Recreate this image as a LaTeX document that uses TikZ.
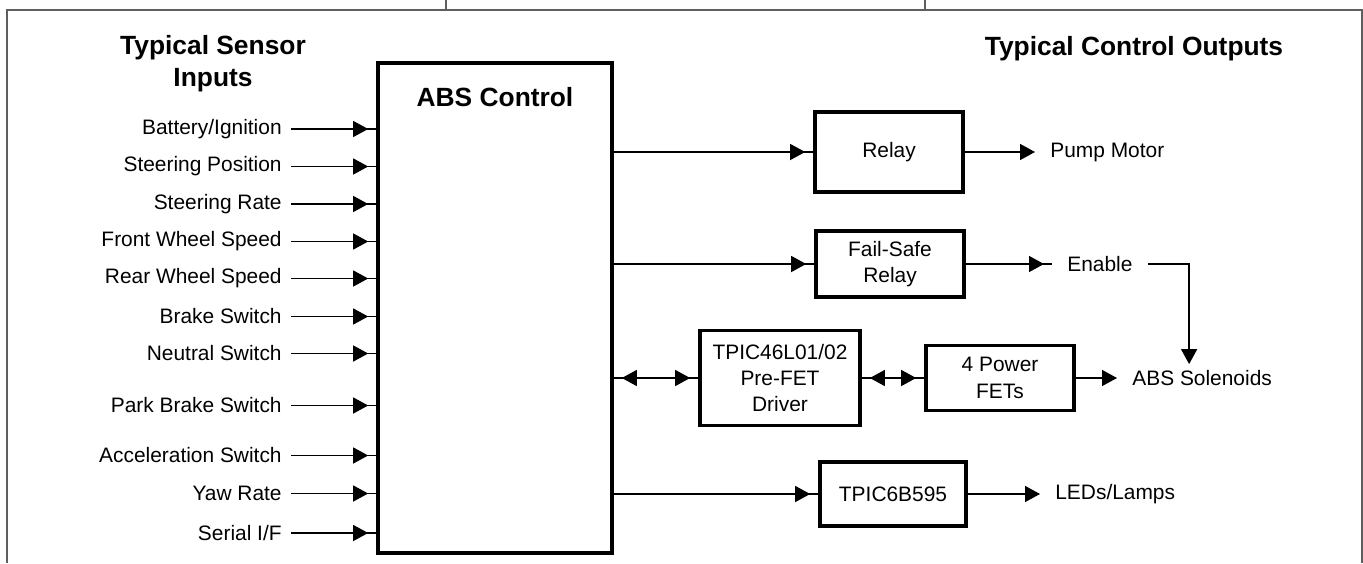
\documentclass[tikz,border=0pt]{standalone}
\usepackage{fontspec}
\setmainfont{Liberation Sans}
\usetikzlibrary{arrows.meta,decorations.markings}
\definecolor{framegray}{HTML}{5F5F5F}

\begin{document}
\begin{tikzpicture}[
  font=\fontsize{11.9}{15}\selectfont,
  frame/.style={draw=framegray, line width=1.1pt},
  heading/.style={font=\fontsize{15}{18.2}\selectfont\bfseries, align=center, inner sep=0},
  ctrl/.style={draw, line width=2.1pt, minimum width=4.68cm, minimum height=9.8cm},
  block/.style={draw, line width=2.1pt, align=center, inner sep=0},
  sensor/.style={anchor=east, inner xsep=0.18cm},
  target/.style={anchor=west, inner xsep=0.3cm},
  sig/.style={line width=0.8pt, postaction={decorate}, decoration={markings, mark=at position -0.16cm with {\arrow{Triangle[length=0.3cm, width=0.32cm]}}}},
  both/.style={line width=0.8pt, postaction={decorate}, decoration={markings, mark=at position 0.16cm with {\arrowreversed{Triangle[length=0.3cm, width=0.32cm]}}, mark=at position -0.16cm with {\arrow{Triangle[length=0.3cm, width=0.32cm]}}}},
  outarrow/.style={line width=0.8pt, -{Triangle[length=0.3cm, width=0.32cm]}}
]
  \useasboundingbox (0,0) rectangle (27.26,-11.26);
  \draw[frame] (0.14,-11.26) -- (0.14,-0.2) -- (27.24,-0.2) -- (27.24,-11.26);
  \draw[frame] (8.92,0) -- (8.92,-0.2);
  \draw[frame] (18.5,0) -- (18.5,-0.2);

  \node[heading, anchor=north] (intitle) at (4.26,-0.7) {Typical Sensor\\Inputs};
  \node[heading, anchor=base] (outtitle) at (22.68,-1.12) {Typical Control Outputs};

  \node[ctrl] (abs) at (9.9,-6.16) {};
  \node[heading, anchor=base] (abstitle) at (9.9,-2.14) {ABS Control};

  % sensor inputs
  \node[sensor] (bat) at (5.82,-2.58) {Battery/Ignition};
  \node[sensor] (steerpos) at (5.82,-3.33) {Steering Position};
  \node[sensor] (steerrate) at (5.82,-4.08) {Steering Rate};
  \node[sensor] (frontws) at (5.82,-4.83) {Front Wheel Speed};
  \node[sensor] (rearws) at (5.82,-5.57) {Rear Wheel Speed};
  \node[sensor] (brake) at (5.82,-6.33) {Brake Switch};
  \node[sensor] (neutral) at (5.82,-7.07) {Neutral Switch};
  \node[sensor] (park) at (5.82,-8.11) {Park Brake Switch};
  \node[sensor] (accel) at (5.82,-9.11) {Acceleration Switch};
  \node[sensor] (yaw) at (5.82,-9.87) {Yaw Rate};
  \node[sensor] (serial) at (5.82,-10.66) {Serial I/F};

  % control outputs
  \node[block, minimum width=2.96cm, minimum height=1.6cm] (relay) at (17.78,-3.04) {Relay};
  \node[block, minimum width=2.96cm, minimum height=1.32cm] (failsafe) at (17.8,-5.28) {Fail-Safe\\Relay};
  \node[block, minimum width=3.2cm, minimum height=1.9cm] (predrv) at (15.6,-7.56) {TPIC46L01/02\\Pre-FET\\Driver};
  \node[block, minimum width=2.96cm, minimum height=1.3cm] (fets) at (20.0,-7.56) {4 Power\\FETs};
  \node[block, minimum width=2.92cm, minimum height=1.28cm] (shiftreg) at (17.86,-9.88) {TPIC6B595};

  \node[target] (pump) at (20.7,-3.04) {Pump Motor};
  \node[target] (enable) at (21.04,-5.28) {Enable};
  \node[target] (solenoids) at (22.34,-7.56) {ABS Solenoids};
  \node[target] (lamps) at (20.8,-9.88) {LEDs/Lamps};

  \draw[sig] (bat.east) -- (bat.east -| abs.west);
  \draw[sig] (steerpos.east) -- (steerpos.east -| abs.west);
  \draw[sig] (steerrate.east) -- (steerrate.east -| abs.west);
  \draw[sig] (frontws.east) -- (frontws.east -| abs.west);
  \draw[sig] (rearws.east) -- (rearws.east -| abs.west);
  \draw[sig] (brake.east) -- (brake.east -| abs.west);
  \draw[sig] (neutral.east) -- (neutral.east -| abs.west);
  \draw[sig] (park.east) -- (park.east -| abs.west);
  \draw[sig] (accel.east) -- (accel.east -| abs.west);
  \draw[sig] (yaw.east) -- (yaw.east -| abs.west);
  \draw[sig] (serial.east) -- (serial.east -| abs.west);

  \draw[sig] (abs.east |- relay) -- (relay);
  \draw[sig] (abs.east |- failsafe) -- (failsafe);
  \draw[both] (abs.east |- predrv) -- (predrv);
  \draw[both] (predrv) -- (fets);
  \draw[sig] (abs.east |- shiftreg) -- (shiftreg);

  \draw[outarrow] (relay) -- (pump);
  \draw[sig] (failsafe) -- (enable);
  \draw[outarrow] (enable.east) -| ([xshift=-0.26cm]solenoids.north);
  \draw[outarrow] (fets) -- (solenoids);
  \draw[outarrow] (shiftreg) -- (lamps);
\end{tikzpicture}
\end{document}
